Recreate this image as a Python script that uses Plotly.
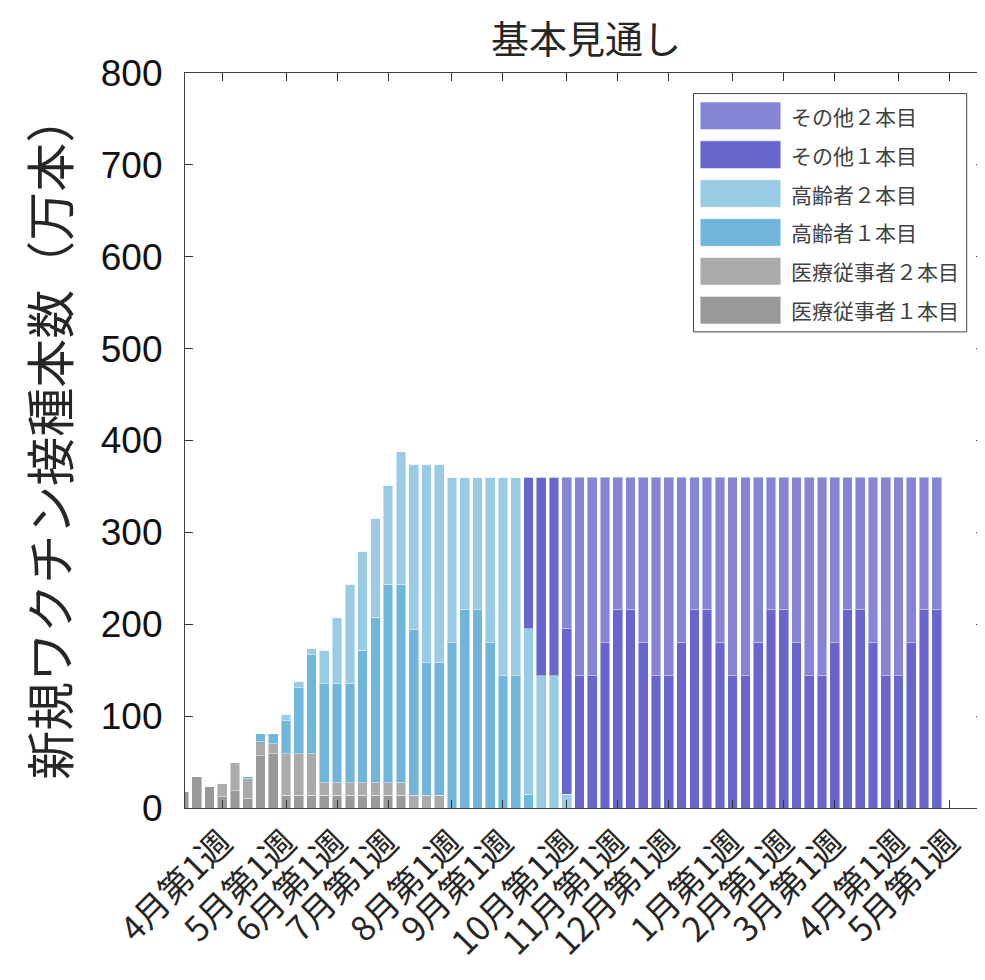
import plotly.graph_objects as go

# ---------------- data ----------------
weeks = list(range(60))

iryo_1 = [18, 34, 23, 12, 19, 10, 57, 59, 14, 14, 14, 14, 14, 14, 14, 14, 14, 14,
          0, 0, 0, 0, 0, 0, 0, 0, 0, 0, 0, 0, 0, 0, 0, 0, 0, 0, 0, 0, 0, 0,
          0, 0, 0, 0, 0, 0, 0, 0, 0, 0, 0, 0, 0, 0, 0, 0, 0, 0, 0, 0]
iryo_2 = [0, 0, 0, 15, 30, 22, 15, 11, 45, 45, 45, 13.5, 13.5, 13.5, 13.5, 13.5, 13.5, 13.5,
          14, 14, 14, 0, 0, 0, 0, 0, 0, 0, 0, 0, 0, 0, 0, 0, 0, 0, 0, 0, 0, 0,
          0, 0, 0, 0, 0, 0, 0, 0, 0, 0, 0, 0, 0, 0, 0, 0, 0, 0, 0, 0]
koreisha_1 = [0, 0, 0, 0, 0, 2.5, 9, 11, 36, 72, 108, 108, 108, 108, 144, 180, 216, 216,
              180, 144, 144, 180, 216, 216, 180, 144, 144, 15, 0, 0, 0, 0, 0, 0, 0, 0, 0, 0, 0, 0,
              0, 0, 0, 0, 0, 0, 0, 0, 0, 0, 0, 0, 0, 0, 0, 0, 0, 0, 0, 0]
koreisha_2 = [0, 0, 0, 0, 0, 0, 0, 0, 7, 7, 7, 36, 72, 108, 108, 108, 108, 144,
              180, 216, 216, 180, 144, 144, 180, 216, 216, 180, 144, 144, 15, 0, 0, 0, 0, 0, 0, 0, 0, 0,
              0, 0, 0, 0, 0, 0, 0, 0, 0, 0, 0, 0, 0, 0, 0, 0, 0, 0, 0, 0]
sonota_1 = [0, 0, 0, 0, 0, 0, 0, 0, 0, 0, 0, 0, 0, 0, 0, 0, 0, 0,
            0, 0, 0, 0, 0, 0, 0, 0, 0, 165, 216, 216, 180, 144, 144, 180, 216, 216, 180, 144, 144, 180,
            216, 216, 180, 144, 144, 180, 216, 216, 180, 144, 144, 180, 216, 216, 180, 144, 144, 180, 216, 216]
sonota_2 = [0, 0, 0, 0, 0, 0, 0, 0, 0, 0, 0, 0, 0, 0, 0, 0, 0, 0,
            0, 0, 0, 0, 0, 0, 0, 0, 0, 0, 0, 0, 165, 216, 216, 180, 144, 144, 180, 216, 216, 180,
            144, 144, 180, 216, 216, 180, 144, 144, 180, 216, 216, 180, 144, 144, 180, 216, 216, 180, 144, 144]

series_names = ["医療従事者１本目", "医療従事者２本目", "高齢者１本目", "高齢者２本目", "その他１本目", "その他２本目"]
series_values = [iryo_1, iryo_2, koreisha_1, koreisha_2, sonota_1, sonota_2]
series_colors = ["#999999", "#ababab", "#70b5da", "#99cce4", "#6666cc", "#8585d5"]

tick_positions = [3, 8, 12, 16, 21, 25, 30, 34, 38, 43, 47, 51, 56, 60]
tick_labels = ["4月第1週", "5月第1週", "6月第1週", "7月第1週", "8月第1週", "9月第1週", "10月第1週",
               "11月第1週", "12月第1週", "1月第1週", "2月第1週", "3月第1週", "4月第1週", "5月第1週"]

title_text = "基本見通し"
ylabel_text = "新規ワクチン接種本数（万本）"

# ---------------- layout geometry ----------------
# page pixel coordinates; the HTML body adds an 8px margin, so the figure is shifted back by OFF
OFF = 8
W, H = 985 - OFF, 980 - OFF
PL, PR, PT, PB = 184.5, 984.0, 72.7, 808.0   # plot area in page px
JP = "Noto Sans CJK JP"


def px_x(x):
    return (x - PL) / (PR - PL)


def px_y(y):
    return (PB - y) / (PB - PT)


fig = go.Figure()
for name, vals, col in zip(series_names, series_values, series_colors):
    fig.add_trace(go.Bar(
        x=weeks, y=vals, name=name, width=0.76,
        marker=dict(color=col, line=dict(color="rgba(255,255,255,0.45)", width=1)),
        showlegend=False,
    ))

# ---------------- custom legend ----------------
shapes = [dict(type="rect", xref="paper", yref="paper",
               x0=px_x(693.3), x1=px_x(966.7), y0=px_y(331.7), y1=px_y(93.3),
               line=dict(color="#404040", width=1), fillcolor="white", layer="above")]
annotations = []
row_h = 38.9
first_center = 115.5
for i, (name, col) in enumerate(zip(series_names[::-1], series_colors[::-1])):
    cy = first_center + i * row_h
    shapes.append(dict(type="rect", xref="paper", yref="paper",
                       x0=px_x(700), x1=px_x(780.7), y0=px_y(cy + 13.8), y1=px_y(cy - 13.8),
                       fillcolor=col, line=dict(color="rgba(255,255,255,0.5)", width=1),
                       layer="above"))
    annotations.append(dict(text=name, xref="paper", yref="paper",
                            x=px_x(789), y=px_y(cy), xanchor="left", yanchor="middle",
                            showarrow=False, font=dict(family=JP, size=21, color="#404040")))

# y-axis title
annotations.append(dict(text=ylabel_text, xref="paper", yref="paper",
                        x=px_x(47), y=px_y(437), xanchor="center", yanchor="middle",
                        textangle=-90, showarrow=False,
                        font=dict(family=JP, size=49, color="#262626")))
# chart title
annotations.append(dict(text=title_text, xref="paper", yref="paper",
                        x=px_x(586), y=px_y(36), xanchor="center", yanchor="middle",
                        showarrow=False,
                        font=dict(family=JP, size=38, color="#262626")))

fig.update_layout(
    width=W, height=H,
    margin=dict(l=PL - OFF, r=985 - PR, t=PT - OFF, b=980 - PB, autoexpand=False),
    paper_bgcolor="white", plot_bgcolor="white",
    barmode="stack", bargap=0.24,
    shapes=shapes, annotations=annotations,
    showlegend=False,
)
fig.update_xaxes(
    range=[0.08, 62.7], tickmode="array", tickvals=tick_positions, ticktext=tick_labels,
    tickangle=-45, ticks="inside", ticklen=8, tickwidth=1.2, tickcolor="#333333",
    showline=True, linecolor="#404040", linewidth=1.2, mirror="ticks",
    showgrid=False, zeroline=False,
    tickfont=dict(family=JP, size=34, color="#262626"),
)
fig.update_yaxes(
    range=[0, 800], tickvals=[0, 100, 200, 300, 400, 500, 600, 700, 800],
    ticks="inside", ticklen=8, tickwidth=1.2, tickcolor="#333333",
    showline=True, linecolor="#404040", linewidth=1.2, mirror="ticks",
    showgrid=False, zeroline=False, ticklabelstandoff=14,
    tickfont=dict(family="Liberation Sans", size=37, color="#111111"),
)

fig.write_html("out.html")
